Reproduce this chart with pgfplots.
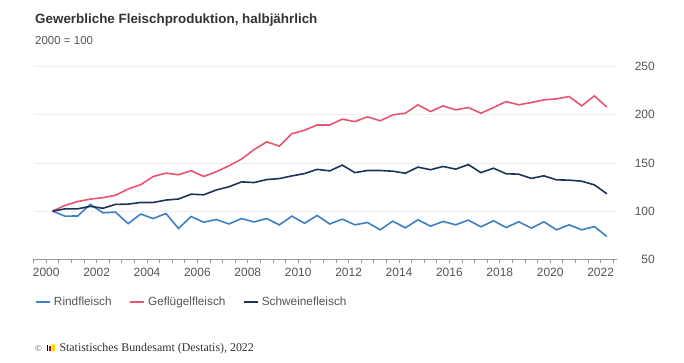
\documentclass[border=0pt]{standalone}
\usepackage{pgfplots}
\pgfplotsset{compat=1.18}
\usepackage{pgfplotstable}
\usepackage{fontspec}
\setmainfont{Liberation Sans}
\newfontfamily\seriffont{Liberation Serif}
\definecolor{rind}{HTML}{3F7FC4}
\definecolor{gefl}{HTML}{E9556F}
\definecolor{schwein}{HTML}{1B3556}
\definecolor{gridgray}{HTML}{EDEDED}
\definecolor{axisgray}{HTML}{9A9A9A}
\definecolor{titlegray}{HTML}{333333}
\definecolor{textgray}{HTML}{555555}

\pgfplotstableread{
x rind gefl schwein
2000.25 100 100 100
2000.75 94.8 106 102.4
2001.25 95 110 102.4
2001.75 107 112.5 105
2002.25 98.3 114 103
2002.75 99 116.5 107
2003.25 87 123 107.3
2003.75 97 127.5 109
2004.25 92.3 136 109
2004.75 97.6 139.5 111.5
2005.25 82 137.8 112.6
2005.75 94.4 142 117.6
2006.25 88.5 136 117
2006.75 91.3 141 122
2007.25 86.7 147 125.3
2007.75 92.3 154 130.4
2008.25 88.8 164 129.7
2008.75 92.3 172 132.8
2009.25 85.7 167.5 133.8
2009.75 94.8 180.5 136.6
2010.25 87.4 184 139
2010.75 95.5 189.5 143.4
2011.25 86.7 189.5 141.8
2011.75 91.7 195.5 147.8
2012.25 85.8 193 140
2012.75 88.2 198 142.2
2013.25 80.6 193.8 142.2
2013.75 89.6 200 141.5
2014.25 82.7 201.7 139.4
2014.75 91 210.4 145.7
2015.25 84.4 203.5 143
2015.75 89.3 209.3 146.4
2016.25 85.8 205.2 143.6
2016.75 90.7 207.6 148.4
2017.25 83.7 201.7 140
2017.75 90 207.6 144.6
2018.25 83 213.8 138.8
2018.75 88.9 210.4 138.4
2019.25 82.4 212.8 134
2019.75 88.9 215.6 136.7
2020.25 80.6 216.6 132.5
2020.75 85.8 219 132.2
2021.25 80.6 209.3 131.1
2021.75 84 219.7 127.3
2022.25 73.7 208 118
}\meat

\begin{document}
\begin{tikzpicture}
\fill[white] (0bp,0bp) rectangle (684bp,363bp);
\useasboundingbox (0bp,0bp) rectangle (684bp,363bp);
\begin{axis}[
  at={(33.6bp,103.7bp)}, anchor=south west,
  scale only axis, width=583.4bp, height=192.6bp,
  xmin=1999.5, xmax=2022.65, ymin=50, ymax=250,
  axis x line*=bottom, axis y line*=right,
  x axis line style={draw=axisgray, line width=0.8bp, -},
  y axis line style={draw=none},
  xtick={2000,2002,...,2022},
  minor xtick={1999.5,2000,...,2022.5},
  tick align=outside,
  major tick length=4bp, minor tick length=4bp,
  tick style={draw=axisgray, line width=0.8bp},
  ytick={50,100,150,200,250},
  ytick style={draw=none},
  ymajorgrids,
  major grid style={draw=gridgray, line width=0.9bp},
  /pgf/number format/assume math mode=true,
  /pgf/number format/1000 sep={},
  tick label style={font=\fontsize{12bp}{14bp}\selectfont, text=textgray},
  xticklabel style={anchor=north, inner sep=0pt, yshift=-5bp},
  yticklabel style={anchor=east, inner sep=0pt, xshift=34bp},
  legend columns=3,
  legend style={at={(axis description cs:0.0024,-0.22)}, anchor=west,
    draw=none, fill=none, inner sep=0pt, outer sep=0pt,
    font=\fontsize{11.8bp}{14bp}\selectfont, text=textgray,
    column sep=1.2bp,
    /tikz/every even column/.append style={column sep=15.4bp}},
  legend image code/.code={\draw[#1] (0bp,0bp) -- (14bp,0bp);},
  legend image post style={line width=1.8bp},
]
\addplot[rind, line width=1.6bp] table[x=x, y=rind] {\meat};
\addlegendentry{Rindfleisch}
\addplot[gefl, line width=1.6bp] table[x=x, y=gefl] {\meat};
\addlegendentry{Geflügelfleisch}
\addplot[schwein, line width=1.6bp] table[x=x, y=schwein] {\meat};
\addlegendentry{Schweinefleisch}
\end{axis}
\node[anchor=base west, inner sep=0pt, text=titlegray, font=\bfseries\fontsize{13.4bp}{16bp}\selectfont] at (35bp,339bp) {Gewerbliche Fleischproduktion, halbjährlich};
\node[anchor=base west, inner sep=0pt, text=textgray, font=\fontsize{11.5bp}{14bp}\selectfont] at (35bp,318.7bp) {2000 = 100};
% footer
\node[anchor=base west, inner sep=0pt, text=textgray, font=\seriffont\fontsize{9bp}{11bp}\selectfont] at (35bp,11.5bp) {©};
\fill[black] (47bp,11.5bp) rectangle (48.4bp,18bp);
\fill[red!80!black] (49.2bp,11.5bp) rectangle (51.2bp,16.5bp);
\fill[yellow!80!orange] (52bp,11.5bp) rectangle (54.6bp,19bp);
\node[anchor=base west, inner sep=0pt, text=titlegray, font=\seriffont\fontsize{11.9bp}{14bp}\selectfont] at (59.3bp,11.5bp) {Statistisches Bundesamt (Destatis), 2022};
\end{tikzpicture}
\end{document}
